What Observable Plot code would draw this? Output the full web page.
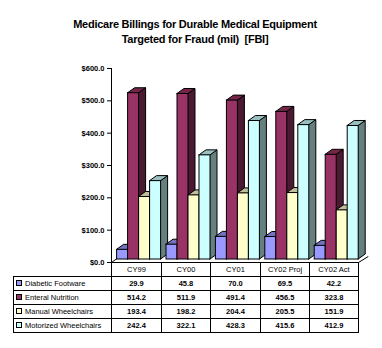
<!DOCTYPE html>
<html><head><meta charset="utf-8">
<script src="https://cdn.jsdelivr.net/npm/d3@7"></script>
<script src="https://cdn.jsdelivr.net/npm/@observablehq/plot@0.6"></script>
<style>
body{margin:0;background:#fff;font-family:"Liberation Sans",Arial,sans-serif;}
#wrap{position:relative;width:382px;height:348px;overflow:hidden;background:#fff;}
#title{position:absolute;left:0;top:17px;width:390px;text-align:center;font-weight:bold;font-size:11px;line-height:15px;letter-spacing:-0.25px;color:#000;}
#chart{position:absolute;left:0;top:50px;}
#tbl{position:absolute;left:13px;top:262px;border-collapse:collapse;table-layout:fixed;font-size:7.5px;color:#000;}
#tbl td{border:1px solid #000;height:13px;padding:0;text-align:center;line-height:12px;white-space:nowrap;overflow:hidden;}
#tbl td.lab{text-align:left;padding-left:2px;}
#tbl td.num{font-weight:bold;}
#tbl td.blank{border:none;}
.sw{display:inline-block;width:4px;height:4px;border:1px solid #000;margin-right:3px;vertical-align:middle;position:relative;top:-1px;}
</style></head>
<body><div id="wrap"><div id="title">Medicare Billings for Durable Medical Equipment<br>Targeted for Fraud (mil)&nbsp; [FBI]</div><div id="chart"></div><table id="tbl"></table></div>
<script>
const years = ["CY99","CY00","CY01","CY02 Proj","CY02 Act"];
const seriesNames = ["Diabetic Footware","Enteral Nutrition","Manual Wheelchairs","Motorized Wheelchairs"];
const diabetic = [29.9,45.8,70.0,69.5,42.2];
const enteral = [514.2,511.9,491.4,456.5,323.8];
const manual = [193.4,198.2,204.4,205.5,151.9];
const motorized = [242.4,322.1,428.3,415.6,412.9];
const yTicks = [0,100,200,300,400,500,600];
const frontColors = ["#9999FF","#993366","#FFFFCC","#CCFFFF"];
const topColors = ["#7373BF","#732648","#BFBF99","#99BFBF"];
const sideColors = ["#4C4C80","#4C1933","#808066","#668080"];

const series = [diabetic, enteral, manual, motorized];

// layout (pixels)
const W = 382, H = 215, mL = 111, mR = 24, mT = 18, mB = 3;
const pxX = (W - mL - mR) / years.length;
const pxY = (H - mT - mB) / 600;
const barOff = 5.6 / pxX, barW = 11 / pxX, depthX = 7 / pxX, depthY = 5 / pxY;

const bars = [];
years.forEach((yr, i) => series.forEach((vals, s) => {
  const x1 = i + barOff + s * barW;
  bars.push({id: i * 4 + s, s, x1, x2: x1 + barW, v: vals[i]});
}));
const sides = bars.flatMap(b => [
  {id: b.id, c: sideColors[b.s], x: b.x2, y1: 0, y2: b.v},
  {id: b.id, c: sideColors[b.s], x: b.x2 + depthX, y1: depthY, y2: b.v + depthY}
]);
const tops = bars.flatMap(b => [
  {id: b.id, c: topColors[b.s], y: b.v, x1: b.x1, x2: b.x2},
  {id: b.id, c: topColors[b.s], y: b.v + depthY, x1: b.x1 + depthX, x2: b.x2 + depthX}
]);

const chart = Plot.plot({
  width: W, height: H,
  marginLeft: mL, marginRight: mR, marginTop: mT, marginBottom: mB,
  x: {domain: [0, years.length], axis: null},
  y: {domain: [0, 600], axis: null},
  color: {type: "identity"},
  style: {fontFamily: "Liberation Sans, Arial, sans-serif", fontSize: "7.5px", fontWeight: "bold", background: "transparent", overflow: "visible"},
  marks: [
    Plot.link([{x1: 0, y1: 0, x2: depthX, y2: depthY}, {x1: years.length, y1: 0, x2: years.length + depthX * 1.4, y2: depthY * 1.2}],
      {x1: "x1", y1: "y1", x2: "x2", y2: "y2", stroke: "black", strokeWidth: 1}),
    Plot.areaY(sides, {x: "x", y1: "y1", y2: "y2", z: "id", fill: "c", stroke: "black", strokeWidth: 1, dy: -3}),
    Plot.areaX(tops, {y: "y", x1: "x1", x2: "x2", z: "id", fill: "c", stroke: "black", strokeWidth: 1, dy: -3}),
    Plot.rect(bars, {x1: "x1", x2: "x2", y1: 0, y2: "v", fill: d => frontColors[d.s], stroke: "black", strokeWidth: 1, dy: -3}),
    Plot.ruleY([0], {x1: 0, x2: years.length, stroke: "black"}),
    Plot.ruleX([0], {y1: 0, y2: 600, stroke: "black"}),
    Plot.axisY(yTicks, {tickFormat: d => "$" + d.toFixed(1), tickSize: 4, tickPadding: 3, label: null})
  ]
});
document.getElementById("chart").appendChild(chart);

// data table
const tbl = document.getElementById("tbl");
const colWidths = [98, 50, 49, 50, 49, 49];
const cg = document.createElement("colgroup");
colWidths.forEach(w => { const c = document.createElement("col"); c.style.width = w + "px"; cg.appendChild(c); });
tbl.appendChild(cg);
const hr = document.createElement("tr");
const blank = document.createElement("td"); blank.className = "blank"; hr.appendChild(blank);
years.forEach(y => { const td = document.createElement("td"); td.textContent = y; hr.appendChild(td); });
tbl.appendChild(hr);
series.forEach((vals, s) => {
  const tr = document.createElement("tr");
  const lab = document.createElement("td"); lab.className = "lab";
  const sw = document.createElement("span"); sw.className = "sw"; sw.style.background = frontColors[s];
  lab.appendChild(sw); lab.appendChild(document.createTextNode(seriesNames[s]));
  tr.appendChild(lab);
  vals.forEach(v => { const td = document.createElement("td"); td.className = "num"; td.textContent = v.toFixed(1); tr.appendChild(td); });
  tbl.appendChild(tr);
});
</script>
</body></html>
